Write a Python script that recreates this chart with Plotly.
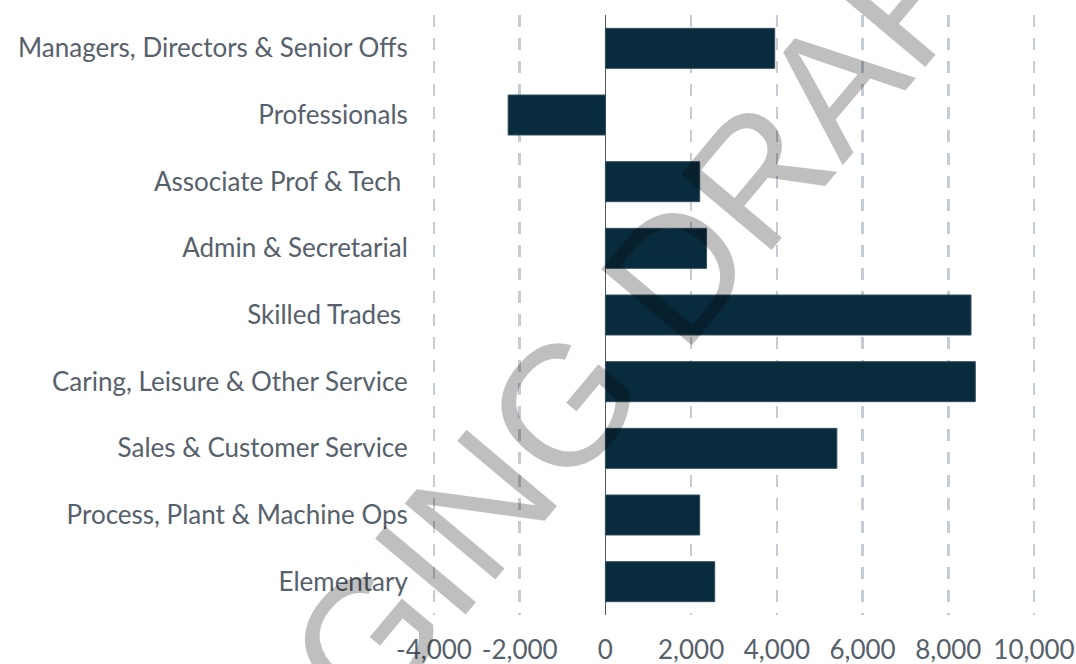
import plotly.graph_objects as go

categories = [
    "Managers, Directors & Senior Offs",
    "Professionals",
    "Associate Prof & Tech ",
    "Admin & Secretarial",
    "Skilled Trades ",
    "Caring, Leisure & Other Service",
    "Sales & Customer Service",
    "Process, Plant & Machine Ops",
    "Elementary",
]
values = [3950, -2270, 2200, 2360, 8530, 8630, 5400, 2200, 2550]
tick_vals = [-4000, -2000, 0, 2000, 4000, 6000, 8000, 10000]
tick_text = ["-4,000", "-2,000", "0", "2,000", "4,000", "6,000", "8,000", "10,000"]
watermark = "STAGING DRAFT"

TEXT = "#56616c"
FONT = "Lato"

fig = go.Figure()
fig.add_trace(go.Bar(
    y=categories, x=values, orientation="h",
    marker=dict(color="#082b3e", line=dict(color="#34505f", width=1)),
    width=0.6,
))

fig.update_layout(
    width=1076, height=664,
    margin=dict(l=430, r=38, t=15, b=49, autoexpand=False),
    paper_bgcolor="white", plot_bgcolor="white",
    showlegend=False,
    font=dict(family=FONT, color=TEXT, size=26),
    xaxis=dict(
        range=[-4093, 10093],
        tickvals=tick_vals, ticktext=tick_text,
        showgrid=True, gridcolor="#c5ccd3", gridwidth=2.5,
        griddash="12px,11px",
        zeroline=True, zerolinecolor="#4a5965", zerolinewidth=1.5,
        ticks="outside", ticklen=12, tickcolor="rgba(0,0,0,0)",
        tickfont=dict(size=26, color=TEXT),
        showline=False, fixedrange=True, automargin=False,
    ),
    yaxis=dict(
        autorange="reversed",
        showgrid=False, zeroline=False,
        ticks="outside", ticklen=16, tickcolor="rgba(0,0,0,0)",
        tickfont=dict(size=26, color=TEXT),
        showline=False, fixedrange=True, automargin=False,
    ),
    annotations=[dict(
        text=watermark, xref="paper", yref="paper",
        x=0.215, y=0.345, xanchor="center", yanchor="middle",
        showarrow=False, textangle=-50,
        font=dict(family="Liberation Sans", size=172, color="rgba(0,0,0,0.25)"),
    )],
)

fig.write_html(
    "out.html",
    config={"displayModeBar": False, "staticPlot": True},
    post_script="document.body.style.margin='0';document.body.style.overflow='hidden';",
)
